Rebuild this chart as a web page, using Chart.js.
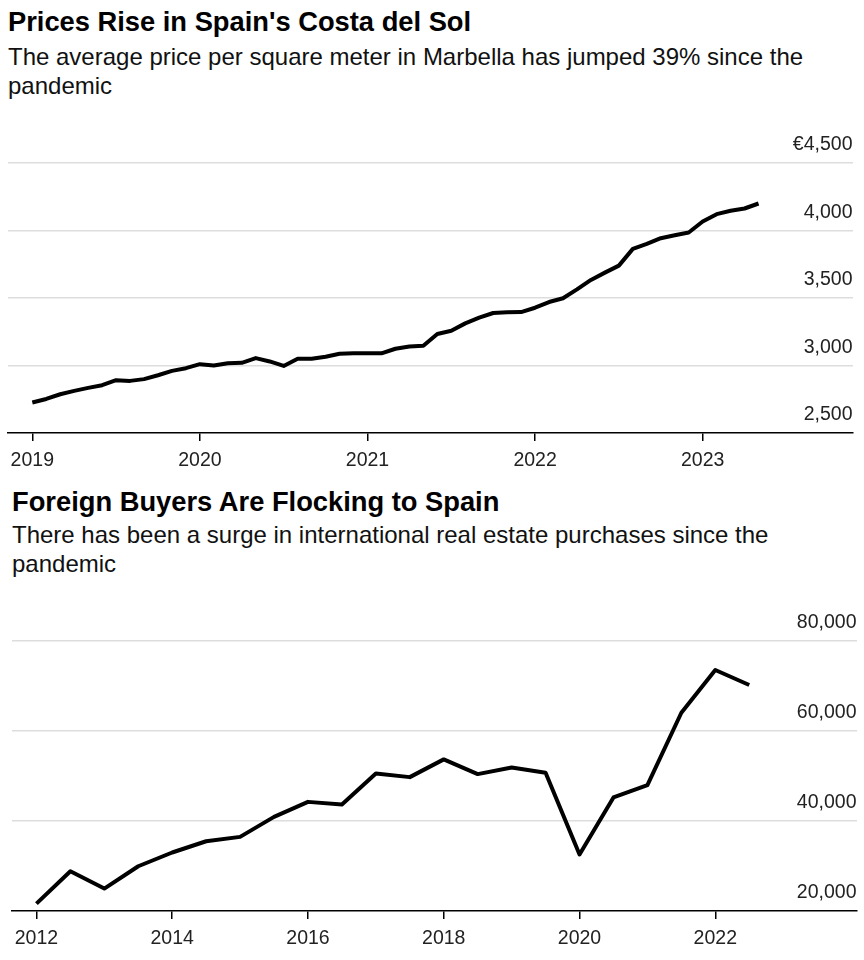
<!DOCTYPE html>
<html>
<head>
<meta charset="utf-8">
<script src="https://cdn.jsdelivr.net/npm/chart.js@4"></script>
<style>
  html, body { margin: 0; padding: 0; background: #fff; }
  body { width: 864px; height: 960px; position: relative; overflow: hidden; font-family: "Liberation Sans", Arial, Helvetica, sans-serif; color: #000; }
  .title { position: absolute; font-weight: bold; font-size: 27.3px; line-height: 32px; white-space: nowrap; }
  .sub { position: absolute; font-size: 24px; line-height: 29px; white-space: nowrap; color: #111; }
  canvas { position: absolute; left: 0; }
</style>
</head>
<body>
<div class="title" style="left:8px; top:6px;">Prices Rise in Spain's Costa del Sol</div>
<div class="sub" style="left:8px; top:42px;">The average price per square meter in Marbella has jumped 39% since the<br>pandemic</div>
<canvas id="c1" width="864" height="380" style="top:100px; width:864px; height:380px;"></canvas>

<div class="title" style="left:12px; top:486px;">Foreign Buyers Are Flocking to Spain</div>
<div class="sub" style="left:12px; top:520px;">There has been a surge in international real estate purchases since the<br>pandemic</div>
<canvas id="c2" width="864" height="380" style="top:580px; width:864px; height:380px;"></canvas>

<script>
// ---- Chart 1: Marbella average price per square meter (monthly, from Jan 2019) ----
const priceStartYear = 2019;
const prices = [
  2726, 2752, 2787, 2812, 2834, 2854, 2891, 2886, 2899, 2928, 2960, 2980,
  3010, 3000, 3017, 3020, 3055, 3030, 2997, 3050, 3050, 3065, 3087, 3090,
  3090, 3090, 3124, 3141, 3146, 3233, 3257, 3312, 3354, 3389, 3394, 3396,
  3428, 3470, 3498, 3564, 3634, 3688, 3740, 3864, 3901, 3943, 3965, 3985,
  4067, 4121, 4146, 4163, 4200
];
const priceYearTicks = [2019, 2020, 2021, 2022, 2023];
const priceValueTicks = [2500, 3000, 3500, 4000, 4500];
const priceValueLabels = ['2,500', '3,000', '3,500', '4,000', '€4,500'];

// ---- Chart 2: Foreign buyers' real estate purchases in Spain (half-yearly, from 2012) ----
const buyersStartYear = 2012;
const buyers = [
  21650, 28830, 24980, 29940, 33000, 35500, 36470, 40920, 44250, 43670, 50570,
  49750, 53690, 50420, 51900, 50700, 32550, 45230, 47970, 64060, 73560, 70220
];
const buyersYearTicks = [2012, 2014, 2016, 2018, 2020, 2022];
const buyersValueTicks = [20000, 40000, 60000, 80000];
const buyersValueLabels = ['20,000', '40,000', '60,000', '80,000'];

const FONT = { family: '"Liberation Sans", Arial, Helvetica, sans-serif', size: 19.5 };

function makeChart(canvasId, points, xMin, xMax, xTicks, yMin, yMax, yTicks, yLabels, padding) {
  return new Chart(document.getElementById(canvasId), {
    type: 'line',
    data: {
      datasets: [{
        data: points,
        borderColor: '#000',
        borderWidth: 4,
        pointRadius: 0,
        pointHoverRadius: 0,
        tension: 0,
        borderJoinStyle: 'round',
        borderCapStyle: 'butt',
        fill: false
      }]
    },
    options: {
      responsive: false,
      animation: false,
      devicePixelRatio: 1,
      layout: { padding: padding },
      plugins: { legend: { display: false }, tooltip: { enabled: false }, title: { display: false } },
      scales: {
        x: {
          type: 'linear',
          position: 'bottom',
          min: xMin,
          max: xMax,
          afterBuildTicks: (axis) => { axis.ticks = xTicks.map(v => ({ value: v })); },
          afterFit: (scale) => { scale.height = 40; },
          grid: { drawOnChartArea: false, drawTicks: true, tickLength: 8, color: '#000', lineWidth: 1.5 },
          border: { display: true, color: '#000', width: 1.5 },
          ticks: {
            autoSkip: false, maxRotation: 0, padding: 8, color: '#222', font: FONT,
            callback: (v) => String(v)
          }
        },
        y: {
          type: 'linear',
          position: 'right',
          min: yMin,
          max: yMax,
          afterBuildTicks: (axis) => { axis.ticks = yTicks.map(v => ({ value: v })); },
          afterFit: (scale) => { scale.width = 0; },
          grid: {
            drawTicks: false,
            lineWidth: 1.5,
            color: (ctx) => (ctx.tick && ctx.tick.value === yMin) ? 'rgba(0,0,0,0)' : '#dddddd'
          },
          border: { display: false },
          ticks: {
            mirror: true, padding: 0, labelOffset: -18, color: '#222', font: FONT, autoSkip: false,
            callback: (v, i) => yLabels[yTicks.indexOf(v)]
          }
        }
      }
    }
  });
}

const pricePoints = prices.map((v, i) => ({ x: priceStartYear + i / 12, y: v }));
const buyersPoints = buyers.map((v, i) => ({ x: buyersStartYear + i / 2, y: v }));

makeChart('c1', pricePoints, 2018.855, 2023.894, priceYearTicks, 2500, 4500, priceValueTicks, priceValueLabels,
  { top: 63, bottom: 7, left: 8, right: 11.5 });
makeChart('c2', buyersPoints, 2011.64, 2024.08, buyersYearTicks, 20000, 80000, buyersValueTicks, buyersValueLabels,
  { top: 61, bottom: 9, left: 12, right: 7.5 });
</script>
</body>
</html>
